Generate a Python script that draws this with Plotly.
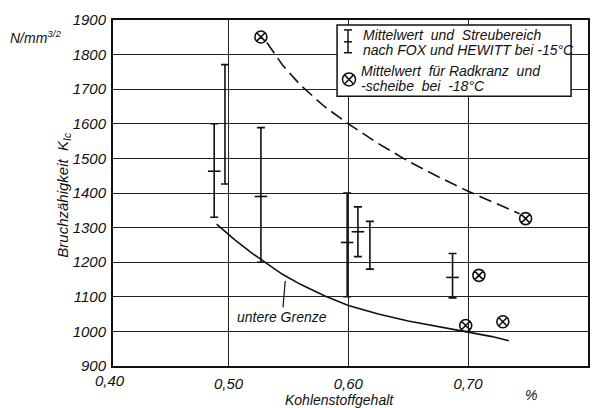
import plotly.graph_objects as go

# Error bars: Mittelwert und Streubereich nach FOX und HEWITT bei -15 °C
bar_x = [0.488, 0.497, 0.527, 0.599, 0.608, 0.618, 0.687]
bar_low = [1330, 1426, 1200, 1100, 1216, 1180, 1097]
bar_high = [1600, 1771, 1589, 1400, 1360, 1318, 1225]
bar_mean = [1463, None, 1390, 1257, 1288, None, 1156]

# Mittelwert für Radkranz und -scheibe bei -18 °C
pt_x = [0.527, 0.748, 0.709, 0.698, 0.729]
pt_y = [1851, 1326, 1162, 1017, 1028]

# dashed trend curve
dash_x = [0.532, 0.545, 0.56, 0.58, 0.60, 0.625, 0.65, 0.675, 0.70, 0.72, 0.735, 0.743]
dash_y = [1835, 1770, 1712, 1650, 1600, 1543, 1492, 1447, 1405, 1375, 1352, 1340]

# lower limit curve (untere Grenze)
low_x = [0.49, 0.505, 0.52, 0.53, 0.545, 0.56, 0.58, 0.60, 0.625, 0.65, 0.675, 0.70, 0.72, 0.734]
low_y = [1310, 1265, 1225, 1200, 1165, 1136, 1103, 1075, 1050, 1030, 1013, 998, 985, 973]

x_ticks = [0.5, 0.6, 0.7, 0.8]
x_ticktext = ["0,50", "0,60", "0,70", "0,80"]
y_ticks = list(range(900, 2000, 100))

FONT = "Liberation Sans"
BLACK = "#111111"

fig = go.Figure()

# error bars (centre marker invisible)
mid = [(l + h) / 2 for l, h in zip(bar_low, bar_high)]
fig.add_trace(go.Scatter(
    x=bar_x, y=mid, mode="markers",
    marker=dict(size=1, opacity=0, color=BLACK),
    error_y=dict(type="data", symmetric=False,
                 array=[h - m for h, m in zip(bar_high, mid)],
                 arrayminus=[m - l for m, l in zip(mid, bar_low)],
                 width=4, thickness=1.6, color=BLACK),
    hoverinfo="skip", showlegend=False))

# mean ticks
mx = [x for x, m in zip(bar_x, bar_mean) if m is not None]
my = [m for m in bar_mean if m is not None]
fig.add_trace(go.Scatter(
    x=mx, y=my, mode="markers",
    marker=dict(symbol="line-ew-open", size=9, color=BLACK,
                line=dict(width=1.6, color=BLACK)),
    showlegend=False))

# curves
fig.add_trace(go.Scatter(x=dash_x, y=dash_y, mode="lines",
                         line=dict(color=BLACK, width=1.6, dash="13px,6px"),
                         showlegend=False))
fig.add_trace(go.Scatter(x=low_x, y=low_y, mode="lines",
                         line=dict(color=BLACK, width=1.6),
                         showlegend=False))

# circle-x points
fig.add_trace(go.Scatter(x=pt_x, y=pt_y, mode="markers",
                         marker=dict(symbol="circle-x-open", size=12,
                                     color=BLACK, line=dict(width=1.6, color=BLACK)),
                         showlegend=False))

L, R, T, B = 113, 11, 17, 42
W, H = 601, 408
pw, ph = W - L - R, H - T - B

def px(xp):
    return (xp - L) / pw

def py(yp):
    return (H - B - yp) / ph

shapes = []
# legend box
shapes.append(dict(type="rect", xref="paper", yref="paper",
                   x0=px(338), x1=px(573), y0=py(94), y1=py(22),
                   line=dict(color=BLACK, width=1.5), fillcolor="white", layer="above"))
# legend error glyph
gx = px(349)
cap = 4 / pw
shapes.append(dict(type="line", xref="paper", yref="paper", x0=gx, x1=gx, y0=py(50), y1=py(27),
                   line=dict(color=BLACK, width=1.5), layer="above"))
for yy in (27, 39, 50):
    shapes.append(dict(type="line", xref="paper", yref="paper", x0=gx - cap, x1=gx + cap,
                       y0=py(yy), y1=py(yy), line=dict(color=BLACK, width=1.5), layer="above"))
# legend circle-x glyph
cx, cy, r = 350, 77, 6.5
d = r / 1.4142
shapes.append(dict(type="circle", xref="paper", yref="paper", xsizemode="pixel", ysizemode="pixel",
                   xanchor=px(cx), yanchor=py(cy), x0=-r, x1=r, y0=-r, y1=r,
                   line=dict(color=BLACK, width=1.5), layer="above"))
shapes.append(dict(type="line", xref="paper", yref="paper", xsizemode="pixel", ysizemode="pixel",
                   xanchor=px(cx), yanchor=py(cy), x0=-d, x1=d, y0=-d, y1=d,
                   line=dict(color=BLACK, width=1.5), layer="above"))
shapes.append(dict(type="line", xref="paper", yref="paper", xsizemode="pixel", ysizemode="pixel",
                   xanchor=px(cx), yanchor=py(cy), x0=-d, x1=d, y0=d, y1=-d,
                   line=dict(color=BLACK, width=1.5), layer="above"))

tf = dict(family=FONT, size=14, color=BLACK, style="italic")
annotations = [
    dict(xref="paper", yref="paper", x=px(362), y=py(31.5), xanchor="left", yanchor="middle",
         text="Mittelwert  und  Streubereich", showarrow=False, font=tf, height=13),
    dict(xref="paper", yref="paper", x=px(362), y=py(47), xanchor="left", yanchor="middle",
         text="nach FOX und HEWITT bei -15°C", showarrow=False, font=tf, height=13),
    dict(xref="paper", yref="paper", x=px(360), y=py(68.5), xanchor="left", yanchor="middle",
         text="Mittelwert  für Radkranz  und", showarrow=False, font=tf, height=12),
    dict(xref="paper", yref="paper", x=px(360), y=py(84), xanchor="left", yanchor="middle",
         text="-scheibe  bei  -18°C", showarrow=False, font=tf, height=12),
    # units
    dict(xref="paper", yref="paper", x=px(8), y=py(34), xanchor="left", yanchor="middle",
         text="N/mm<sup>3/2</sup>", showarrow=False, font=tf),
    # y title
    dict(xref="paper", yref="paper", x=px(63), y=py(193), xanchor="center", yanchor="middle",
         textangle=-90, text="Bruchzähigkeit  K<sub>Ic</sub>", showarrow=False,
         font=dict(family=FONT, size=15, color=BLACK, style="italic")),
    # x title
    dict(xref="paper", yref="paper", x=px(340), y=py(400), xanchor="center", yanchor="middle",
         text="Kohlenstoffgehalt", showarrow=False, font=tf),
    dict(xref="paper", yref="paper", x=px(533), y=py(395), xanchor="center", yanchor="middle",
         text="%", showarrow=False, font=tf),
    # 0,40 tick label at left edge
    dict(xref="paper", yref="paper", x=px(110), y=py(381), xanchor="center", yanchor="middle",
         text="0,40", showarrow=False, font=dict(family=FONT, size=15, color=BLACK, style="italic")),
    # untere Grenze
    dict(x=0.5473, y=1146, xref="x", yref="y", text="untere Grenze", showarrow=True,
         arrowhead=0, arrowwidth=1.2, arrowcolor=BLACK, ax=-3, ay=36, font=tf),
]

fig.update_layout(
    width=W, height=H,
    margin=dict(l=L, r=R, t=T, b=B),
    paper_bgcolor="white", plot_bgcolor="white",
    shapes=shapes, annotations=annotations,
    xaxis=dict(range=[0.4035, 0.8001], tickvals=x_ticks, ticktext=x_ticktext,
               showgrid=True, gridcolor="#222222", gridwidth=1,
               showline=True, linecolor=BLACK, linewidth=2, mirror=True,
               ticks="", zeroline=False, ticklabelstandoff=3,
               tickfont=dict(family=FONT, size=15, color=BLACK, style="italic")),
    yaxis=dict(range=[900, 1900], tickvals=y_ticks,
               showgrid=True, gridcolor="#222222", gridwidth=1,
               showline=True, linecolor=BLACK, linewidth=2, mirror=True,
               ticks="", zeroline=False, ticklabelstandoff=2,
               tickfont=dict(family=FONT, size=15, color=BLACK, style="italic")),
)

fig.write_html("out.html", config={"displayModeBar": False},
               post_script="document.body.style.margin='0';document.body.style.padding='0';")
